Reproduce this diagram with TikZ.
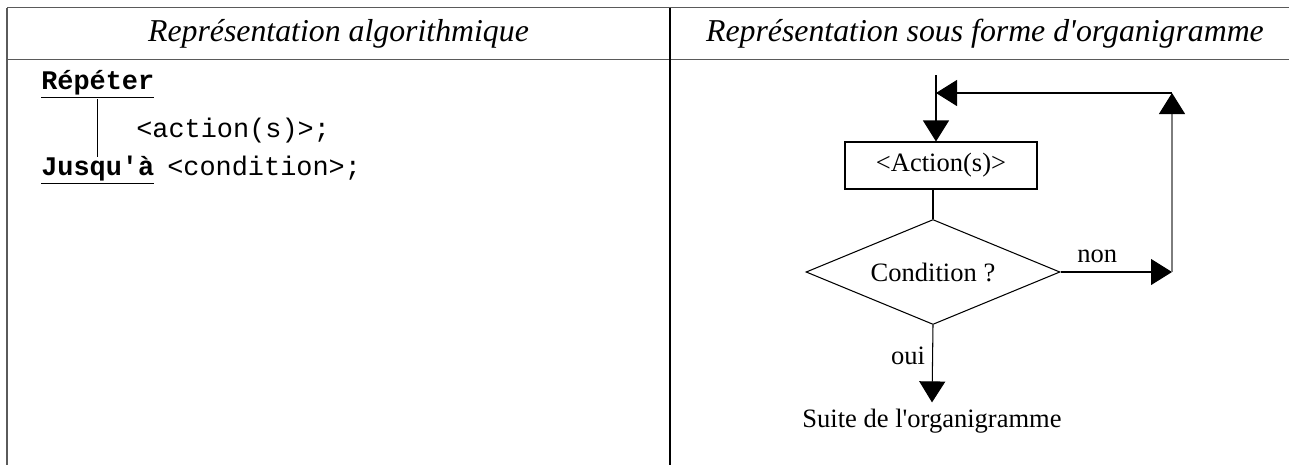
\documentclass[tikz,border=0pt]{standalone}
\usepackage{fontspec}
\setmainfont{Liberation Serif}
\setmonofont{Liberation Mono}
\usepackage{tikz}
\usetikzlibrary{calc,shapes.geometric,arrows.meta}
\definecolor{orga@rule}{RGB}{90,90,90}
\definecolor{orga@grey}{RGB}{125,125,125}
\tikzset{
  rulecell/.style={orga@rule, line width=0.7pt},
  headtext/.style={font=\fontsize{18.1}{21}\selectfont\itshape},
  codetext/.style={font=\fontsize{15.3}{18}\selectfont\ttfamily, anchor=base west, inner sep=0pt},
  charttext/.style={font=\fontsize{15.1}{18}\selectfont},
  flowarrow/.style={-{Triangle[length=0.42cm,width=0.52cm,color=black]}, line width=0.6pt},
}

\begin{document}
\begin{tikzpicture}[x=0.02cm,y=-0.02cm]
\useasboundingbox (0,0) rectangle (1289,464);

% table
\draw[rulecell] (7,7.5) -- (1300,7.5);
\draw[rulecell] (7,59.5) -- (1300,59.5);
\draw[rulecell] (7,7.5) -- (7,470);
\draw[black, line width=0.7pt] (670,7.5) -- (670,470);

\node[headtext] (headalgo) at (338.5,34) {Représentation algorithmique};
\node[headtext] (headorga) at (985,34) {Représentation sous forme d\textquotesingle organigramme};

% algorithme
\node[codetext] (repeter) at (41,89) {\underline{\textbf{Répéter}}};
\node[codetext] (action) at (136,137) {<action(s)>;};
\node[codetext] (jusqua) at (41,175) {\underline{\textbf{Jusqu'à}}};
\node[codetext] (condition) at (167,175) {<condition>;};
\coordinate (blocktop) at (repeter.south |- 0,99);
\coordinate (blockend) at (repeter.south |- 0,157);
\draw[line width=0.6pt] (blocktop) -- (blockend);

% organigramme
\begin{scope}[charttext]
  \coordinate (entry) at (936,75);
  \node[draw, line width=0.6pt, minimum width=3.84cm, minimum height=0.94cm] (actbox) at (941,165.5) {<Action(s)>};
  \node[draw, diamond, aspect=2.4, inner sep=0pt, line width=0.6pt,
        minimum width=5.08cm, minimum height=2.1cm] (test) at (933,272) {Condition ?};
  \node[anchor=base] (suite) at (932,427) {Suite de l\textquotesingle organigramme};
  \coordinate (loopbottom) at (1172,272);
  \coordinate (looptop) at (1172,93);

  \draw[flowarrow] (entry) -- (entry |- actbox.north);
  \draw[line width=0.6pt] (actbox.south -| test.north) -- (test.north);
  \draw[flowarrow] (test.east) -- node[pos=.33, above, inner sep=5pt] (non) {non} (loopbottom);
  \draw[flowarrow, draw=orga@grey] (loopbottom) -- (looptop);
  \draw[flowarrow] (looptop) -- (looptop -| entry);
  \draw[flowarrow] (test.south) -- node[pos=.4, left, inner sep=4pt] (oui) {oui} (suite.north);
\end{scope}

\end{tikzpicture}
\end{document}
